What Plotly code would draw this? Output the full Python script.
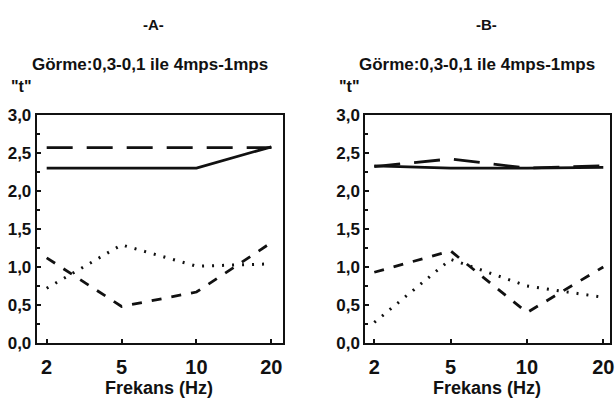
import plotly.graph_objects as go

freq = ["2", "5", "10", "20"]
ytick_vals = [0.0, 0.5, 1.0, 1.5, 2.0, 2.5, 3.0]
ytick_text = ["0,0", "0,5", "1,0", "1,5", "2,0", "2,5", "3,0"]

# Panel A
a_solid = [2.30, 2.30, 2.30, 2.58]
a_longdash = [2.57, 2.57, 2.57, 2.57]
a_dash = [1.12, 0.48, 0.67, 1.32]
a_dot = [0.72, 1.29, 1.01, 1.04]

# Panel B
b_solid = [2.33, 2.30, 2.30, 2.31]
b_longdash = [2.32, 2.42, 2.30, 2.33]
b_dash = [0.93, 1.21, 0.40, 1.00]
b_dot = [0.27, 1.10, 0.75, 0.60]

FONT = "Liberation Sans, Arial, sans-serif"
BLACK = "#111111"

fig = go.Figure()

styles = [
    ("solid", 2.8),
    ("26px,14px", 2.8),
    ("10px,10px", 2.8),
    ("2px,8px", 3.0),
]

def add_panel(series, xa, ya):
    for vals, (dash, w) in zip(series, styles):
        fig.add_trace(go.Scatter(
            x=freq, y=vals, mode="lines", xaxis=xa, yaxis=ya,
            line=dict(color=BLACK, width=w, dash=dash),
            showlegend=False, hoverinfo="skip"))

add_panel([a_solid, a_longdash, a_dash, a_dot], "x", "y")
add_panel([b_solid, b_longdash, b_dash, b_dot], "x2", "y2")

ydom = [0.148, 0.730]
axis_common = dict(
    showline=True, linecolor=BLACK, linewidth=2, mirror=True,
    ticks="inside", tickcolor=BLACK, ticklen=4, tickwidth=1.5,
    showgrid=False, zeroline=False,
)
xt = dict(tickvals=freq, ticktext=["<b>%s</b>" % f for f in freq], ticklabelstandoff=5,
          tickfont=dict(family=FONT, size=20, color=BLACK))
yt = dict(tickvals=ytick_vals, ticktext=["<b>%s</b>" % t for t in ytick_text],
          tickfont=dict(family=FONT, size=17, color=BLACK),
          minor=dict(ticks="inside", ticklen=3, dtick=0.25, tickcolor=BLACK))

fig.update_layout(
    width=616, height=411,
    margin=dict(l=0, r=0, t=0, b=0),
    paper_bgcolor="white", plot_bgcolor="white",
    font=dict(family=FONT, color=BLACK),
    xaxis=dict(domain=[0.060, 0.463], anchor="y", type="category",
               range=[-0.133, 3.16], **xt, **axis_common),
    yaxis=dict(domain=ydom, anchor="x", range=[0, 3.0], **yt, **axis_common),
    xaxis2=dict(domain=[0.597, 0.997], anchor="y2", type="category",
                range=[-0.117, 3.09], **xt, **axis_common),
    yaxis2=dict(domain=ydom, anchor="x2", range=[0, 3.0], **yt, **axis_common),
)

def label(text, x, y, size, xanchor="center"):
    fig.add_annotation(text=text, x=x, y=y, xref="paper", yref="paper",
                       xanchor=xanchor, yanchor="middle", showarrow=False,
                       font=dict(family=FONT, size=size, color=BLACK))

H = 411.0
W = 616.0
label("<b>-A-</b>", 155 / W, 1 - 16 / H, 15)
label("<b>Görme:0,3-0,1 ile 4mps-1mps</b>", 151 / W, 1 - 58 / H, 17)
label('<b>"t"</b>', 9 / W, 1 - 81 / H, 16, xanchor="left")
label("<b>Frekans (Hz)</b>", 160 / W, 1 - 397 / H, 18)

label("<b>-B-</b>", 490 / W, 1 - 16 / H, 15)
label("<b>Görme:0,3-0,1 ile 4mps-1mps</b>", 480 / W, 1 - 58 / H, 17)
label('<b>"t"</b>', 339 / W, 1 - 81 / H, 16, xanchor="left")
label("<b>Frekans (Hz)</b>", 490 / W, 1 - 397 / H, 18)

fig.write_html("out.html")
